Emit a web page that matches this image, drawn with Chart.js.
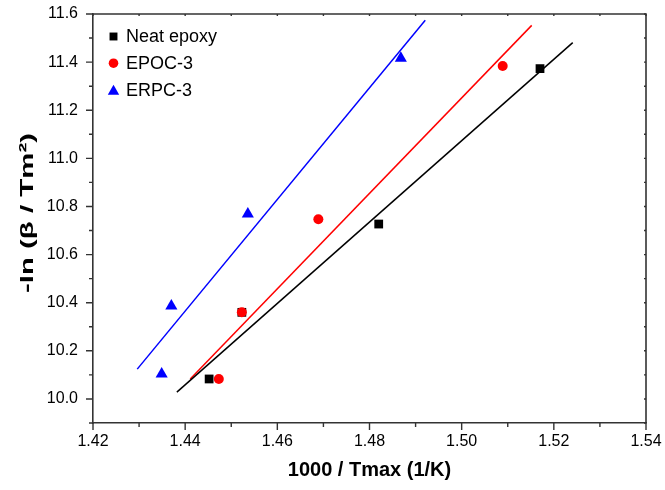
<!DOCTYPE html>
<html><head><meta charset="utf-8">
<script src="https://cdn.jsdelivr.net/npm/chart.js@4"></script>
<style>html,body{margin:0;padding:0;background:#fff}#wrap{width:665px;height:490px}</style>
</head><body><div id="wrap"><canvas id="c" width="665" height="490"></canvas></div>
<script>
// ---- data ----
const seriesNames = ['Neat epoxy', 'EPOC-3', 'ERPC-3'];
const neatX = [1.4452, 1.4523, 1.4820, 1.5170];
const neatY = [10.083, 10.360, 10.727, 11.373];
const epocX = [1.4473, 1.4523, 1.4689, 1.5089];
const epocY = [10.083, 10.360, 10.747, 11.384];
const erpcX = [1.4349, 1.4370, 1.4536, 1.4868];
const erpcY = [10.104, 10.386, 10.769, 11.416];
// x extent of each fitted line
const neatFitRange = [1.4382, 1.5241];
const epocFitRange = [1.4411, 1.5152];
const erpcFitRange = [1.4296, 1.4921];
// axis ticks
const xTicks = [1.42, 1.44, 1.46, 1.48, 1.50, 1.52, 1.54];
const yTicks = [10.0, 10.2, 10.4, 10.6, 10.8, 11.0, 11.2, 11.4, 11.6];
const xMin = 1.42, xMax = 1.54, yMin = 9.9, yMax = 11.6;
const xTitle = '1000 / Tmax (1/K)';
const yTitle = '-ln (β / Tm²)';

const FONT = "'Liberation Sans', Arial, Helvetica, sans-serif";
const colors = ['#000000', '#ff0000', '#0000ff'];
const styles = ['rect', 'circle', 'triangle'];
const radii = [6.2, 5, 7];

function linFit(xs, ys) {
  const n = xs.length;
  const mx = xs.reduce((a, b) => a + b, 0) / n;
  const my = ys.reduce((a, b) => a + b, 0) / n;
  let sxy = 0, sxx = 0;
  for (let i = 0; i < n; i++) { sxy += (xs[i] - mx) * (ys[i] - my); sxx += (xs[i] - mx) ** 2; }
  const b = sxy / sxx, a = my - b * mx;
  return x => a + b * x;
}
function pts(xs, ys) { return xs.map((x, i) => ({ x, y: ys[i] })); }
function fitLine(xs, ys, range) { const f = linFit(xs, ys); return range.map(x => ({ x, y: f(x) })); }

const allX = [neatX, epocX, erpcX], allY = [neatY, epocY, erpcY];
const ranges = [neatFitRange, epocFitRange, erpcFitRange];

const datasets = [];
for (let i = 0; i < 3; i++) {
  datasets.push({
    label: seriesNames[i] + ' fit', data: fitLine(allX[i], allY[i], ranges[i]),
    showLine: true, borderColor: colors[i], borderWidth: 1.5, pointRadius: 0, fill: false, order: 10
  });
}
for (let i = 0; i < 3; i++) {
  datasets.push({
    label: seriesNames[i], data: pts(allX[i], allY[i]), showLine: false,
    pointStyle: styles[i], pointRadius: radii[i], pointHoverRadius: radii[i],
    backgroundColor: colors[i], borderColor: colors[i], borderWidth: 0, order: 3 - i
  });
}

const framePlugin = {
  id: 'frame',
  afterDraw(chart) {
    const { ctx, chartArea: a, scales: { x, y } } = chart;
    ctx.save();
    ctx.strokeStyle = '#333';
    ctx.lineWidth = 1.6;
    ctx.beginPath();
    ctx.moveTo(a.left, a.top); ctx.lineTo(a.right, a.top); ctx.lineTo(a.right, a.bottom);
    ctx.stroke();
    ctx.lineWidth = 1.4;
    ctx.beginPath();
    const xMinor = [];
    for (let i = 0; i < xTicks.length - 1; i++) xMinor.push((xTicks[i] + xTicks[i + 1]) / 2);
    const yMinor = [yMin];
    for (let i = 0; i < yTicks.length - 1; i++) yMinor.push((yTicks[i] + yTicks[i + 1]) / 2);
    xTicks.forEach(v => { const p = x.getPixelForValue(v); ctx.moveTo(p, a.bottom); ctx.lineTo(p, a.bottom + 7); ctx.moveTo(p, a.top); ctx.lineTo(p, a.top + 2); });
    xMinor.forEach(v => { const p = x.getPixelForValue(v); ctx.moveTo(p, a.bottom); ctx.lineTo(p, a.bottom + 4); ctx.moveTo(p, a.top); ctx.lineTo(p, a.top + 2); });
    yTicks.forEach(v => { const p = y.getPixelForValue(v); ctx.moveTo(a.left, p); ctx.lineTo(a.left - 7, p); ctx.moveTo(a.right, p); ctx.lineTo(a.right - 2, p); });
    yMinor.forEach(v => { const p = y.getPixelForValue(v); ctx.moveTo(a.left, p); ctx.lineTo(a.left - 4, p); ctx.moveTo(a.right, p); ctx.lineTo(a.right - 2, p); });
    ctx.stroke();

    // rotated y-axis title (stretched along its length, as in the reference)
    ctx.save();
    ctx.translate(28, 213);
    ctx.rotate(-Math.PI / 2);
    ctx.font = 'bold 19px ' + FONT;
    ctx.fillStyle = '#000';
    ctx.textAlign = 'center';
    ctx.textBaseline = 'middle';
    const w0 = ctx.measureText(yTitle).width;
    ctx.scale(Math.max(1, 160 / w0), 1);
    ctx.fillText(yTitle, 0, 0);
    ctx.restore();
    ctx.restore();
  }
};

const legendPlugin = {
  id: 'inlegend',
  afterDraw(chart) {
    const { ctx } = chart;
    ctx.save();
    ctx.font = '18px ' + FONT;
    ctx.textBaseline = 'middle';
    const rows = [36.5, 63.2, 89.9];
    for (let i = 0; i < 3; i++) {
      ctx.fillStyle = colors[i];
      ctx.strokeStyle = colors[i];
      Chart.helpers.drawPoint(ctx, { pointStyle: styles[i], radius: i === 0 ? 5.6 : (i === 1 ? 4.8 : 6.6), borderWidth: 0 }, 113.5, rows[i] + (i === 2 ? 1.5 : 0));
      ctx.fillStyle = '#000';
      ctx.fillText(seriesNames[i], 126, rows[i] + 1);
    }
    ctx.restore();
  }
};

new Chart(document.getElementById('c'), {
  type: 'scatter',
  data: { datasets },
  options: {
    responsive: false, devicePixelRatio: 1, animation: false,
    layout: { padding: { top: 14, right: 19, left: 0, bottom: 0 } },
    plugins: { legend: { display: false }, tooltip: { enabled: false } },
    scales: {
      x: {
        type: 'linear', min: xMin, max: xMax,
        afterBuildTicks: s => { s.ticks = xTicks.map(v => ({ value: v })); },
        afterFit: s => { s.height = 67; s.paddingLeft = 0; s.paddingRight = 0; },
        ticks: { callback: v => Number(v).toFixed(2), font: { size: 16, family: FONT }, color: '#000', padding: 9, maxRotation: 0, autoSkip: false },
        grid: { display: false, drawTicks: false },
        border: { display: true, color: '#333', width: 1.6 },
        title: { display: true, text: xTitle, font: { size: 20, weight: 'bold', family: FONT }, color: '#000', padding: { top: 0, bottom: 8 } }
      },
      y: {
        type: 'linear', min: yMin, max: yMax,
        afterBuildTicks: s => { s.ticks = yTicks.map(v => ({ value: v })); },
        afterFit: s => { s.width = 93; s.paddingTop = 0; s.paddingBottom = 0; },
        ticks: { callback: v => Number(v).toFixed(1), font: { size: 16, family: FONT }, color: '#000', padding: 15, autoSkip: false },
        grid: { display: false, drawTicks: false },
        border: { display: true, color: '#333', width: 1.6 },
        title: { display: false }
      }
    }
  },
  plugins: [framePlugin, legendPlugin]
});
</script>
</body></html>
